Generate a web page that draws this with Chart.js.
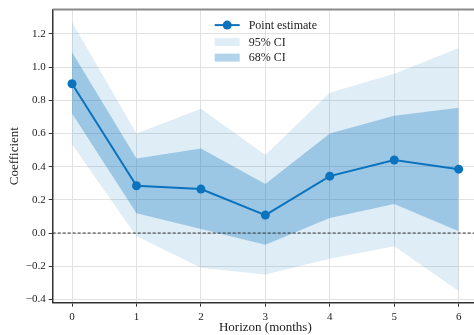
<!DOCTYPE html>
<html>
<head>
<meta charset="utf-8">
<script src="https://cdn.jsdelivr.net/npm/chart.js@4.4.0/dist/chart.umd.min.js"></script>
<style>
  html, body { margin: 0; padding: 0; overflow: hidden; background: #fff; }
  #wrap { width: 474px; height: 335px; overflow: hidden; }
</style>
</head>
<body>
<div id="wrap"><canvas id="chart" width="490" height="345"></canvas></div>
<script>
const horizons = [0, 1, 2, 3, 4, 5, 6];
const pointEstimate = [0.90, 0.285, 0.265, 0.108, 0.343, 0.44, 0.385];
const ci95Upper = [1.27, 0.60, 0.75, 0.47, 0.845, 0.96, 1.115];
const ci95Lower = [0.535, -0.02, -0.21, -0.25, -0.155, -0.08, -0.35];
const ci68Upper = [1.09, 0.45, 0.51, 0.295, 0.60, 0.707, 0.756];
const ci68Lower = [0.72, 0.12, 0.025, -0.07, 0.09, 0.175, 0.01];
const yTicks = [-0.4, -0.2, 0.0, 0.2, 0.4, 0.6, 0.8, 1.0, 1.2];
const legendLabels = ['Point estimate', '95% CI', '68% CI'];

const lineColor = '#0b72bd';
const fill95 = 'rgba(0,114,189,0.13)';
const fill68 = 'rgba(0,114,189,0.30)';

const toPoints = vals => horizons.map((h, i) => ({ x: h, y: vals[i] }));

Chart.defaults.font.family = '"Liberation Serif", "Times New Roman", serif';
Chart.defaults.color = '#222';

// spines, zero line and legend
const extras = {
    id: 'extras',
    afterDatasetsDraw(chart) {
        const { ctx, chartArea: a, scales } = chart;
        const y0 = scales.y.getPixelForValue(0);
        ctx.save();
        // dashed zero line
        ctx.strokeStyle = '#333';
        ctx.lineWidth = 1;
        ctx.setLineDash([3, 2]);
        ctx.beginPath();
        ctx.moveTo(a.left, y0);
        ctx.lineTo(a.right, y0);
        ctx.stroke();
        ctx.setLineDash([]);
        // top spine
        ctx.strokeStyle = '#8a8a8a';
        ctx.lineWidth = 2;
        ctx.beginPath();
        ctx.moveTo(a.left, a.top);
        ctx.lineTo(a.right, a.top);
        ctx.stroke();

        // legend
        const lx = a.left + 162;
        const rows = [a.top + 15.5, a.top + 32.5, a.top + 48];
        ctx.font = '12px "Liberation Serif", serif';
        ctx.textBaseline = 'middle';
        ctx.fillStyle = '#222';
        // point estimate
        ctx.strokeStyle = lineColor;
        ctx.lineWidth = 2;
        ctx.beginPath();
        ctx.moveTo(lx, rows[0]);
        ctx.lineTo(lx + 25, rows[0]);
        ctx.stroke();
        ctx.fillStyle = lineColor;
        ctx.beginPath();
        ctx.arc(lx + 12.5, rows[0], 4.5, 0, Math.PI * 2);
        ctx.fill();
        // bands
        ctx.fillStyle = fill95;
        ctx.fillRect(lx, rows[1] - 4, 25, 8);
        ctx.fillStyle = fill68;
        ctx.fillRect(lx, rows[2] - 4, 25, 8);
        ctx.fillStyle = '#222';
        legendLabels.forEach((t, i) => ctx.fillText(t, lx + 34, rows[i] + 0.5));
        ctx.restore();
    }
};

new Chart(document.getElementById('chart'), {
    type: 'line',
    data: {
        datasets: [
            { label: '95% upper', data: toPoints(ci95Upper), fill: '+1', backgroundColor: fill95,
              borderWidth: 0, pointRadius: 0, tension: 0, order: 3 },
            { label: '95% lower', data: toPoints(ci95Lower), fill: false,
              borderWidth: 0, pointRadius: 0, tension: 0, order: 3 },
            { label: '68% upper', data: toPoints(ci68Upper), fill: '+1', backgroundColor: fill68,
              borderWidth: 0, pointRadius: 0, tension: 0, order: 2 },
            { label: '68% lower', data: toPoints(ci68Lower), fill: false,
              borderWidth: 0, pointRadius: 0, tension: 0, order: 2 },
            { label: 'Point estimate', data: toPoints(pointEstimate), fill: false,
              borderColor: lineColor, backgroundColor: lineColor, borderWidth: 2,
              pointRadius: 4.5, pointBorderWidth: 0, tension: 0, order: 0 }
        ]
    },
    options: {
        responsive: false,
        animation: false,
        devicePixelRatio: 1,
        layout: { padding: { top: 7, right: 12, left: 0, bottom: 0 } },
        plugins: { legend: { display: false }, tooltip: { enabled: false } },
        scales: {
            x: {
                type: 'linear',
                min: -0.3,
                max: 6.3,
                afterBuildTicks: s => { s.ticks = horizons.map(v => ({ value: v })); },
                afterFit: s => { s.height = 42.3; },
                ticks: { font: { size: 11 }, padding: 4, callback: v => String(v) },
                grid: { color: '#e2e2e2', lineWidth: 1, tickLength: 4, tickColor: '#333' },
                border: { color: '#333', width: 1.5 },
                title: { display: true, text: 'Horizon (months)', font: { size: 13 }, padding: { top: 0, bottom: 10 }, color: '#222' }
            },
            y: {
                min: -0.42,
                max: 1.347,
                afterBuildTicks: s => { s.ticks = yTicks.map(v => ({ value: v })); },
                afterFit: s => { s.width = 52.7; },
                ticks: { font: { size: 11 }, padding: 3,
                         callback: v => v.toFixed(1).replace('-', '\u2212') },
                grid: { color: '#e2e2e2', lineWidth: 1, tickLength: 4, tickColor: '#333' },
                border: { color: '#333', width: 1.5 },
                title: { display: true, text: 'Coefficient', font: { size: 13 }, padding: { top: 6.5, bottom: 0 }, color: '#222' }
            }
        }
    },
    plugins: [extras]
});
</script>
</body>
</html>
